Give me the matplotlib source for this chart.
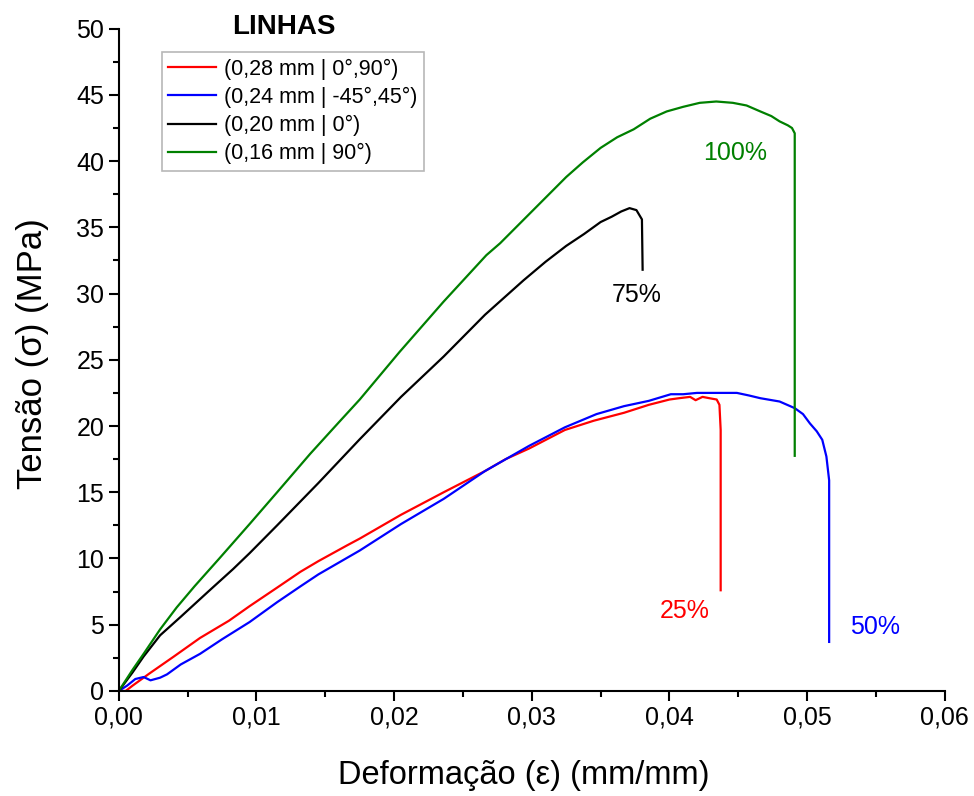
import matplotlib
matplotlib.use("Agg")
import matplotlib.pyplot as plt
from matplotlib.ticker import MultipleLocator, FuncFormatter

plt.rcParams['font.family'] = ['Liberation Sans', 'DejaVu Sans']

# ---- data ----
labels = ["(0,28 mm | 0°,90°)", "(0,24 mm | -45°,45°)", "(0,20 mm | 0°)", "(0,16 mm | 90°)"]
colors = ["#ff0000", "#0000ff", "#000000", "#008000"]

red_x = [0, 0.0005, 0.0010, 0.0022, 0.0040, 0.0059, 0.0080, 0.0095, 0.0115, 0.0132,
         0.0145, 0.0166, 0.0175, 0.0195, 0.0205, 0.0236, 0.0266, 0.0281, 0.0298, 0.0324,
         0.0345, 0.0367, 0.0385, 0.0400, 0.0407, 0.0415, 0.0419, 0.0424, 0.0429, 0.04343,
         0.04363, 0.04372, 0.04372]
red_y = [0, 0, 0.4, 1.3, 2.6, 4.0, 5.3, 6.4, 7.8, 9.0,
         9.8, 11.0, 11.5, 12.7, 13.3, 15.0, 16.6, 17.5, 18.3, 19.7,
         20.4, 21.0, 21.6, 22.0, 22.1, 22.2, 21.95, 22.2, 22.1, 22.0,
         21.6, 19.7, 7.6]

blue_x = [0, 0.0006, 0.0012, 0.0018, 0.0023, 0.0030, 0.0035, 0.0045, 0.0059, 0.0075,
          0.0095, 0.0115, 0.0132, 0.0145, 0.0175, 0.0205, 0.0236, 0.0266, 0.0298, 0.0324,
          0.0347, 0.0367, 0.0385, 0.0401, 0.0410, 0.0420, 0.0449, 0.0458, 0.0466, 0.0480,
          0.0491, 0.0497, 0.0502, 0.0507, 0.0511, 0.0514, 0.0515, 0.0516, 0.0516]
blue_y = [0, 0.4, 0.9, 1.05, 0.8, 1.0, 1.25, 2.0, 2.8, 3.9,
          5.2, 6.7, 7.9, 8.8, 10.6, 12.6, 14.5, 16.6, 18.5, 19.9,
          20.9, 21.5, 21.9, 22.4, 22.4, 22.5, 22.5, 22.3, 22.1, 21.85,
          21.35, 20.9, 20.2, 19.6, 18.96, 17.7, 16.8, 15.9, 3.7]

black_x = [0, 0.0010, 0.0018, 0.0030, 0.0045, 0.0066, 0.0083, 0.0095, 0.0115, 0.0145,
           0.0175, 0.0205, 0.0236, 0.0266, 0.0294, 0.0310, 0.0325, 0.0338, 0.0350, 0.0358,
           0.0365, 0.0371, 0.0376, 0.0380, 0.03805]
black_y = [0, 1.4, 2.6, 4.2, 5.6, 7.6, 9.2, 10.4, 12.5, 15.7,
           19.0, 22.2, 25.25, 28.4, 31.0, 32.4, 33.6, 34.5, 35.4, 35.8,
           36.2, 36.45, 36.3, 35.6, 31.8]

green_x = [0, 0.0010, 0.0018, 0.0030, 0.0042, 0.0055, 0.0073, 0.0095, 0.0115, 0.0139,
           0.0160, 0.0175, 0.0204, 0.0236, 0.0267, 0.0277, 0.0301, 0.0325, 0.0337, 0.0350,
           0.0362, 0.0374, 0.0386, 0.0398, 0.0410, 0.0422, 0.0434, 0.0446, 0.0456, 0.0466,
           0.0474, 0.0480, 0.0486, 0.0489, 0.0491, 0.0491]
green_y = [0, 1.6, 2.8, 4.65, 6.3, 7.9, 10.0, 12.6, 15.0, 17.9,
           20.3, 22.0, 25.6, 29.4, 32.9, 33.8, 36.3, 38.8, 39.9, 41.0,
           41.8, 42.4, 43.2, 43.75, 44.1, 44.4, 44.5, 44.4, 44.2, 43.75,
           43.4, 43.0, 42.7, 42.5, 42.1, 17.75]

pct_labels = ["25%", "50%", "75%", "100%"]
pct_x = [0.0411, 0.0549, 0.0376, 0.0448]
pct_y = [6.0, 4.8, 29.9, 40.6]

series = [(red_x, red_y), (blue_x, blue_y), (black_x, black_y), (green_x, green_y)]

# ---- figure ----
fig = plt.figure(figsize=(9.74, 7.96), dpi=100)
ax = fig.add_axes([0.122, 0.132, 0.848, 0.832])

for (xs, ys), lab, c in zip(series, labels, colors):
    ax.plot(xs, ys, color=c, lw=1.6, label=lab)

for t, xv, yv, c in zip(pct_labels, pct_x, pct_y, colors):
    ax.text(xv, yv, t, color=c, fontsize=18, ha='center', va='center')

ax.set_xlim(0, 0.06)
ax.set_ylim(0, 50)
ax.xaxis.set_major_locator(MultipleLocator(0.01))
ax.xaxis.set_minor_locator(MultipleLocator(0.005))
ax.yaxis.set_major_locator(MultipleLocator(5))
ax.yaxis.set_minor_locator(MultipleLocator(2.5))
ax.xaxis.set_major_formatter(FuncFormatter(lambda v, p: f"{v:.2f}".replace('.', ',')))
ax.yaxis.set_major_formatter(FuncFormatter(lambda v, p: f"{v:.0f}"))

for s in ['top', 'right']:
    ax.spines[s].set_visible(False)
for s in ['left', 'bottom']:
    ax.spines[s].set_linewidth(1.5)
ax.tick_params(which='major', direction='out', length=7, width=1.5, labelsize=18)
ax.tick_params(which='minor', direction='out', length=4, width=1.5)

ax.set_xlabel("Deformação (ε) (mm/mm)", fontsize=23.5)
ax.set_ylabel("Tensão (σ) (MPa)", fontsize=25)
ax.xaxis.set_label_coords(0.49, -0.104)
ax.yaxis.set_label_coords(-0.084, 0.51)

leg = ax.legend(loc='upper left', bbox_to_anchor=(162 / 974, 1 - 52 / 796),
                bbox_transform=fig.transFigure, borderaxespad=0, fontsize=15.5,
                handlelength=2.2, handletextpad=0.4, labelspacing=0.33,
                fancybox=False, framealpha=1, edgecolor='#b8b8b8', borderpad=0.3)
leg.get_frame().set_linewidth(1.2)

fig.text(284 / 974, 1 - 27 / 796, "LINHAS", fontsize=20, fontweight='bold',
         ha='center', va='center')

fig.savefig("out.png", dpi=100)
